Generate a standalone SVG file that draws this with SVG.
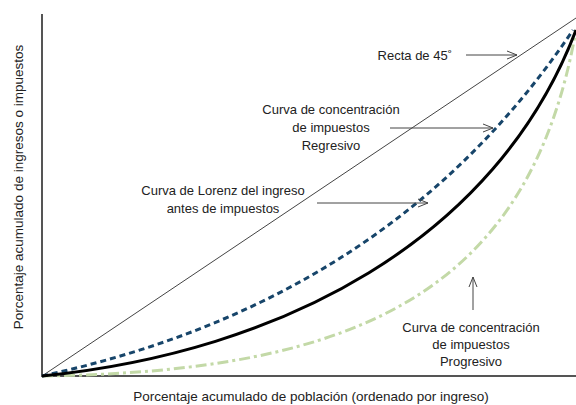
<svg xmlns="http://www.w3.org/2000/svg" width="576" height="405" viewBox="0 0 576 405">
<defs>
<marker id="open" markerWidth="12" markerHeight="10" refX="11" refY="5" orient="auto" markerUnits="userSpaceOnUse">
<path d="M1,1 L11,5 L1,9" fill="none" stroke="#444" stroke-width="1"/>
</marker>
<style>
text{font-family:"Liberation Sans",Arial,sans-serif;font-size:13px;fill:#222}
.ax{stroke:#555;stroke-width:2;fill:none}
.ptr{stroke:#444;stroke-width:1;fill:none;marker-end:url(#open)}
.diag{stroke:#444;stroke-width:1;fill:none}
.blue{stroke:#17456a;stroke-width:3;fill:none;stroke-dasharray:6 4}
.black{stroke:#000;stroke-width:3;fill:none}
.green{stroke:#c3d9a7;stroke-width:3;fill:none;stroke-dasharray:11 4 3 4}
</style>
</defs>
<rect width="576" height="405" fill="#fff"/>
<g id="axes">
<line class="ax" x1="42" y1="14" x2="42" y2="377"/>
<line class="ax" x1="41" y1="376" x2="576" y2="376"/>
<text x="311" y="401" text-anchor="middle" style="font-size:13.5px">Porcentaje acumulado de población (ordenado por ingreso)</text>
<text transform="translate(23,187) rotate(-90)" text-anchor="middle" style="font-size:13.5px">Porcentaje acumulado de ingresos o impuestos</text>
</g>
<g id="curves">
<line class="diag" x1="42" y1="376" x2="576" y2="18"/>
<path class="green" d="M42,376 C362,372 530,290 576,30"/>
<path class="blue" d="M42,376 C254,330 440,228 573,30"/>
<path class="black" d="M42,376 C282,352 496,240 576,30"/>
</g>
<g id="connectors">
<line class="ptr" x1="466" y1="55" x2="517" y2="55"/>
<line class="ptr" x1="390" y1="128" x2="493" y2="128"/>
<line class="ptr" x1="317" y1="203" x2="428" y2="203"/>
<line class="ptr" x1="473" y1="310" x2="473" y2="277"/>
</g>
<g id="label-recta">
<text x="452" y="60" text-anchor="end">Recta de 45˚</text>
</g>
<g id="label-regresivo">
<text x="331" y="114" text-anchor="middle">Curva de concentración</text>
<text x="331" y="132" text-anchor="middle">de impuestos</text>
<text x="331" y="150" text-anchor="middle">Regresivo</text>
</g>
<g id="label-lorenz">
<text x="223" y="195" text-anchor="middle">Curva de Lorenz del ingreso</text>
<text x="223" y="213" text-anchor="middle">antes de impuestos</text>
</g>
<g id="label-progresivo">
<text x="471" y="332" text-anchor="middle">Curva de concentración</text>
<text x="471" y="349" text-anchor="middle">de impuestos</text>
<text x="471" y="366" text-anchor="middle">Progresivo</text>
</g>
</svg>
